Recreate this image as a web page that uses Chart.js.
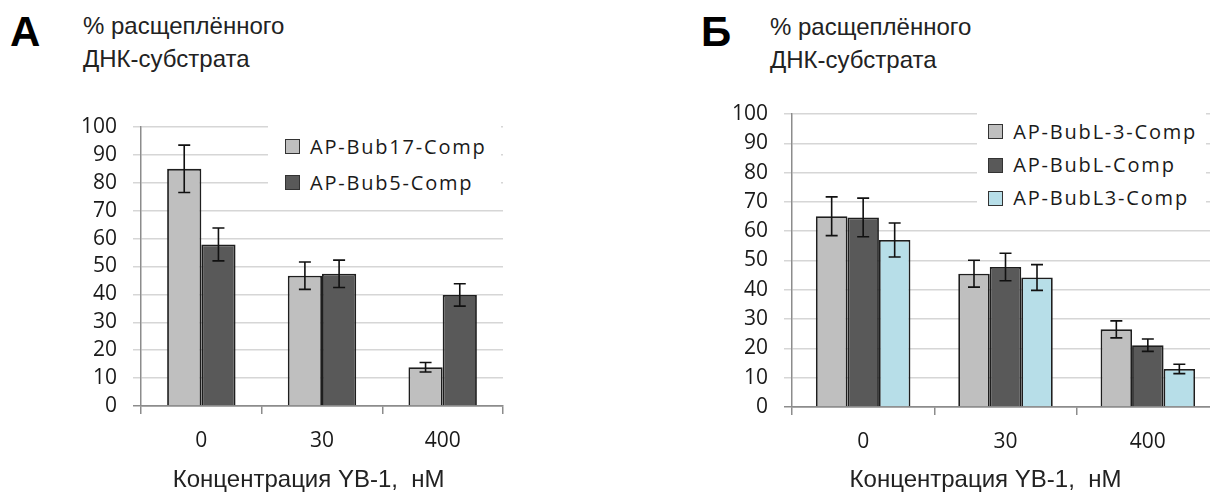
<!DOCTYPE html>
<html>
<head>
<meta charset="utf-8">
<script src="https://cdn.jsdelivr.net/npm/chart.js@4.4.1/dist/chart.umd.min.js"></script>
<style>
  html, body { margin: 0; padding: 0; background: #fff; overflow: hidden; width: 1210px; height: 495px; }
  canvas { position: absolute; top: 0; }
  .letter { position: absolute; font: bold 42px "Liberation Sans", Arial, sans-serif; line-height: 42px; color: #000; }
  .ylab { position: absolute; font: 24px "Liberation Sans", Arial, sans-serif; line-height: 33px; color: #222; }
  .legend { position: absolute; background: #fff; }
  .legend .row { position: absolute; height: 20px; display: flex; align-items: center; font: 20px "Open Sans", sans-serif; letter-spacing: 1.8px; line-height: 20px; color: #1a1a1a; white-space: nowrap; }
  .legend .sw { width: 15px; height: 15px; box-sizing: border-box; border: 1.5px solid #333; margin-right: 10px; }
</style>
</head>
<body>
<div class="letter" style="left:10px; top:11px;">А</div>
<div class="ylab" style="left:83px; top:9px;">% расщеплённого<br>ДНК-субстрата</div>
<div class="letter" style="left:701px; top:11px;">Б</div>
<div class="ylab" style="left:770px; top:10px;">% расщеплённого<br>ДНК-субстрата</div>

<canvas id="chartA" width="560" height="495" style="left:0px;"></canvas>
<canvas id="chartB" width="630" height="495" style="left:600px;"></canvas>

<div class="legend" id="legendA" style="left:268px; top:118px; width:233px; height:84px;"></div>
<div class="legend" id="legendB" style="left:977px; top:107px; width:229px; height:110px;"></div>

<script>
// categories (YB-1 concentration, nM)
const categories = ['0', '30', '400'];
const xTitle = 'Концентрация YB-1,  нМ';
const yMin = 0;
const yMax = 100;
const yStep = 10;

// panel A
const labelsA = ['AP-Bub17-Comp', 'AP-Bub5-Comp'];
const bub17Values = [85.0, 46.7, 13.9];
const bub17Errors = [8.5, 4.9, 1.7];
const bub5Values = [57.9, 47.4, 39.8];
const bub5Errors = [5.9, 4.9, 4.0];

// panel B
const labelsB = ['AP-BubL-3-Comp', 'AP-BubL-Comp', 'AP-BubL3-Comp'];
const bubLm3Values = [65.1, 45.5, 26.5];
const bubLm3Errors = [6.6, 4.6, 2.9];
const bubLValues = [64.7, 47.8, 21.1];
const bubLErrors = [6.6, 4.7, 2.1];
const bubL3Values = [57.0, 44.2, 13.0];
const bubL3Errors = [5.8, 4.4, 1.6];

const LIGHT = '#bfbfbf';
const DARK = '#595959';
const CYAN = '#b7dee8';

// draws +/- error whiskers on top of each bar
const errorBars = {
  id: 'errorBars',
  afterDatasetsDraw(chart) {
    const ctx = chart.ctx;
    const y = chart.scales.y;
    ctx.save();
    ctx.strokeStyle = '#111';
    ctx.lineWidth = 1.6;
    chart.data.datasets.forEach((ds, i) => {
      chart.getDatasetMeta(i).data.forEach((bar, j) => {
        const v = ds.data[j];
        const e = ds.errors[j];
        const top = y.getPixelForValue(v + e);
        const bot = y.getPixelForValue(v - e);
        ctx.beginPath();
        ctx.moveTo(bar.x, top); ctx.lineTo(bar.x, bot);
        ctx.moveTo(bar.x - 6, top); ctx.lineTo(bar.x + 6, top);
        ctx.moveTo(bar.x - 6, bot); ctx.lineTo(bar.x + 6, bot);
        ctx.stroke();
      });
    });
    ctx.restore();
  }
};

function makeChart(id, datasets, opts) {
  return new Chart(document.getElementById(id), {
    type: 'bar',
    data: {
      labels: categories,
      datasets: datasets.map(d => ({
        label: d.label,
        data: d.values,
        errors: d.errors,
        backgroundColor: d.color,
        borderColor: '#1e1e1e',
        borderWidth: 1.8,
        barPercentage: 1,
        categoryPercentage: opts.catPct,
      })),
    },
    options: {
      responsive: false,
      animation: false,
      devicePixelRatio: 1,
      layout: { padding: { left: 0, top: opts.top, right: opts.right, bottom: 0 } },
      plugins: { legend: { display: false }, tooltip: { enabled: false } },
      scales: {
        x: {
          grid: { offset: true, drawOnChartArea: false, drawTicks: true, tickLength: 8, color: '#8c8c8c', lineWidth: 1.5 },
          border: { color: '#8c8c8c', width: 1.5 },
          ticks: { color: '#1a1a1a', font: { family: 'Open Sans', size: 21 }, padding: 14, maxRotation: 0, autoSkip: false },
          title: {
            display: true,
            text: xTitle + '\u00a0'.repeat(opts.titlePad),
            color: '#222',
            font: { family: 'Liberation Sans', size: 24 },
            padding: { top: 0, bottom: 0 },
          },
          afterFit: s => { s.height = opts.xHeight; },
        },
        y: {
          min: yMin,
          max: yMax,
          grid: {
            color: c => (c.tick && c.tick.value === 0 ? '#8c8c8c' : '#d6d6d6'),
            lineWidth: 1.5,
            tickLength: 8,
          },
          border: { color: '#8c8c8c', width: 1.5 },
          ticks: { stepSize: yStep, autoSkip: false, color: '#1a1a1a', font: { family: 'Open Sans', size: 21 }, padding: 16 },
          afterFit: s => { s.width = opts.yWidth; },
        },
      },
    },
    plugins: [errorBars],
  });
}

function buildLegend(elId, chart, swLeft, rowTop, rowGap) {
  const box = document.getElementById(elId);
  chart.data.datasets.forEach((ds, i) => {
    const row = document.createElement('div');
    row.className = 'row';
    row.style.left = swLeft + 'px';
    row.style.top = (rowTop + i * rowGap) + 'px';
    const sw = document.createElement('span');
    sw.className = 'sw';
    sw.style.background = ds.backgroundColor;
    const txt = document.createElement('span');
    txt.textContent = ds.label;
    row.appendChild(sw);
    row.appendChild(txt);
    box.appendChild(row);
  });
}

const chartA = makeChart('chartA', [
  { label: labelsA[0], values: bub17Values, errors: bub17Errors, color: LIGHT },
  { label: labelsA[1], values: bub5Values, errors: bub5Errors, color: DARK },
], { catPct: 0.567, top: 127, right: 57, yWidth: 141, xHeight: 89, titlePad: 4 });

const chartB = makeChart('chartB', [
  { label: labelsB[0], values: bubLm3Values, errors: bubLm3Errors, color: LIGHT },
  { label: labelsB[1], values: bubLValues, errors: bubLErrors, color: DARK },
  { label: labelsB[2], values: bubL3Values, errors: bubL3Errors, color: CYAN },
], { catPct: 0.664, top: 114, right: 11, yWidth: 192, xHeight: 88, titlePad: 6 });

buildLegend('legendA', chartA, 17, 18.8, 35.7);
buildLegend('legendB', chartB, 11.3, 14.8, 33.3);
</script>
</body>
</html>
